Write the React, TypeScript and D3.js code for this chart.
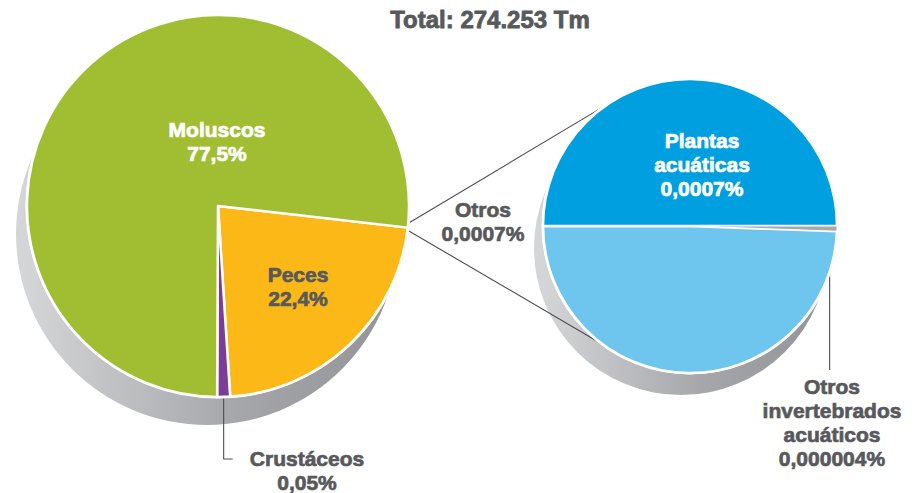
import React from "react";
import * as d3 from "d3";

const title = "Total: 274.253 Tm";

const leftCategories = ["Peces", "Crustáceos", "Moluscos", "Otros"];
const leftValues = [22.4, 0.05, 77.5, 0.0007];
const leftLabels = ["22,4%", "0,05%", "77,5%", "0,0007%"];
const leftColors = ["#fbb817", "#7c3d96", "#a1be33", "none"];

const rightCategories = ["Otros invertebrados acuáticos", "Plantas acuáticas"];
const rightValues = [0.000004, 0.0007];
const rightLabels = ["0,000004%", "0,0007%"];
const rightColors = ["#a7a8aa", "#009fe0"];
const rightLowerTint = "#6ec6ee";

const W = 914;
const H = 493;
const TEXT = "#58595b";
const FONT = "'Liberation Sans', Arial, sans-serif";
const deg = Math.PI / 180;

const L = { cx: 218, cy: 206, r: 191, sdx: -11, sdy: 28 };
const R = { cx: 690, cy: 226, r: 147, sdx: -9, sdy: 22 };

function Lines({ lines, x, y, fill, size = 21, gap = 24 }: any) {
  return (
    <text
      x={x}
      y={y}
      fill={fill}
      stroke={fill}
      strokeWidth={0.7}
      fontFamily={FONT}
      fontWeight="bold"
      fontSize={size}
      textAnchor="middle"
    >
      {lines.map((l: string, i: number) => (
        <tspan key={i} x={x} dy={i === 0 ? 0 : gap}>{l}</tspan>
      ))}
    </text>
  );
}

export default function App() {
  // Left pie: tiny slices get a minimum visible width; "Otros" is exploded into the right pie
  const leftDisplay = leftValues.map((v) => (v < 0.01 ? 0 : Math.max(v, 1.1)));
  const leftPie = d3
    .pie<number>()
    .sort(null)
    .value((_, i) => leftDisplay[i])
    .startAngle(96.5 * deg)
    .endAngle(456.5 * deg)(leftValues);
  const arcL = d3.arc<any>().innerRadius(0).outerRadius(L.r);

  const rTotal = d3.sum(rightValues);
  const rightDisplay = rightValues.map((v) => Math.max(v, rTotal * 0.003));
  const rightPie = d3
    .pie<number>()
    .sort(null)
    .value((_, i) => rightDisplay[i])
    .startAngle(90 * deg)
    .endAngle(450 * deg)(rightValues);
  const arcR = d3.arc<any>().innerRadius(0).outerRadius(R.r);

  const pt = (c: any, a: number, rr: number) => [c.cx + rr * Math.sin(a), c.cy - rr * Math.cos(a)];

  const otros = leftPie[3];
  const [ox, oy] = pt(L, otros.startAngle, L.r * 0.97);
  const [ux, uy] = pt(R, 326 * deg, R.r);
  const [lx, ly] = pt(R, 216 * deg, R.r);

  const crus = leftPie[1];
  const [cx0, cy0] = pt(L, (crus.startAngle + crus.endAngle) / 2, L.r);

  const inv = rightPie[0];
  const [ix, iy] = pt(R, (inv.startAngle + inv.endAngle) / 2, R.r * 0.95);

  const plantas = rightPie[1];

  return (
    <svg width={W} height={H} style={{ position: "absolute", left: 0, top: 0, background: "#fff" }}>
      <defs>
        <linearGradient id="shL" gradientUnits="userSpaceOnUse" x1={L.cx - L.r} x2={L.cx + L.r} y1={0} y2={0}>
          <stop offset="0" stopColor="#d4d5d7" />
          <stop offset="0.55" stopColor="#a5a6a9" />
          <stop offset="1" stopColor="#929396" />
        </linearGradient>
        <linearGradient id="shR" gradientUnits="userSpaceOnUse" x1={R.cx - R.r} x2={R.cx + R.r} y1={0} y2={0}>
          <stop offset="0" stopColor="#d4d5d7" />
          <stop offset="0.55" stopColor="#a5a6a9" />
          <stop offset="1" stopColor="#929396" />
        </linearGradient>
      </defs>

      <text
        x={490}
        y={28}
        fill={TEXT}
        stroke={TEXT}
        strokeWidth={0.8}
        fontFamily={FONT}
        fontWeight="bold"
        fontSize={24}
        textAnchor="middle"
      >
        {title}
      </text>

      <circle cx={L.cx + L.sdx} cy={L.cy + L.sdy} r={L.r} fill="url(#shL)" />
      <circle cx={R.cx + R.sdx} cy={R.cy + R.sdy} r={R.r} fill="url(#shR)" />

      <line x1={ox} y1={oy} x2={ux} y2={uy} stroke="#4d4d4f" strokeWidth={1.1} />
      <line x1={ox} y1={oy} x2={lx} y2={ly} stroke="#4d4d4f" strokeWidth={1.1} />

      <polyline
        points={`${cx0},${cy0} ${cx0},459 ${cx0 + 9},459`}
        fill="none"
        stroke="#4d4d4f"
        strokeWidth={1.1}
      />
      <line x1={ix} y1={iy} x2={ix} y2={370} stroke="#4d4d4f" strokeWidth={1.1} />

      <g transform={`translate(${L.cx},${L.cy})`}>
        <circle r={L.r} fill="#fff" stroke="#fff" strokeWidth={3} />
        {leftPie.map((d, i) =>
          leftColors[i] === "none" || d.endAngle - d.startAngle === 0 ? null : (
            <path key={i} d={arcL(d) as string} fill={leftColors[i]} stroke="#fff" strokeWidth={2.5} strokeLinejoin="round" />
          )
        )}
      </g>

      <g transform={`translate(${R.cx},${R.cy})`}>
        <circle r={R.r} fill="#fff" stroke="#fff" strokeWidth={3} />
        <path
          d={arcR({ startAngle: plantas.startAngle, endAngle: 270 * deg }) as string}
          fill={rightLowerTint}
          stroke="#fff"
          strokeWidth={2.5}
        />
        <path
          d={arcR({ startAngle: 270 * deg, endAngle: plantas.endAngle }) as string}
          fill={rightColors[1]}
          stroke="#fff"
          strokeWidth={2.5}
        />
        <path d={arcR(inv) as string} fill={rightColors[0]} stroke="#fff" strokeWidth={1} />
      </g>

      <Lines lines={[leftCategories[2], leftLabels[2]]} x={217} y={136.5} fill="#fff" />
      <Lines lines={[leftCategories[0], leftLabels[0]]} x={298} y={281.5} fill={TEXT} />
      <Lines lines={[leftCategories[1], leftLabels[1]]} x={307} y={466} fill={TEXT} />
      <Lines lines={[leftCategories[3], leftLabels[3]]} x={483} y={217} fill={TEXT} />
      <Lines lines={["Plantas", "acuáticas", rightLabels[1]]} x={702} y={148.3} fill="#fff" gap={23.7} />
      <Lines lines={["Otros", "invertebrados", "acuáticos", rightLabels[0]]} x={832} y={394} fill={TEXT} />
    </svg>
  );
}
